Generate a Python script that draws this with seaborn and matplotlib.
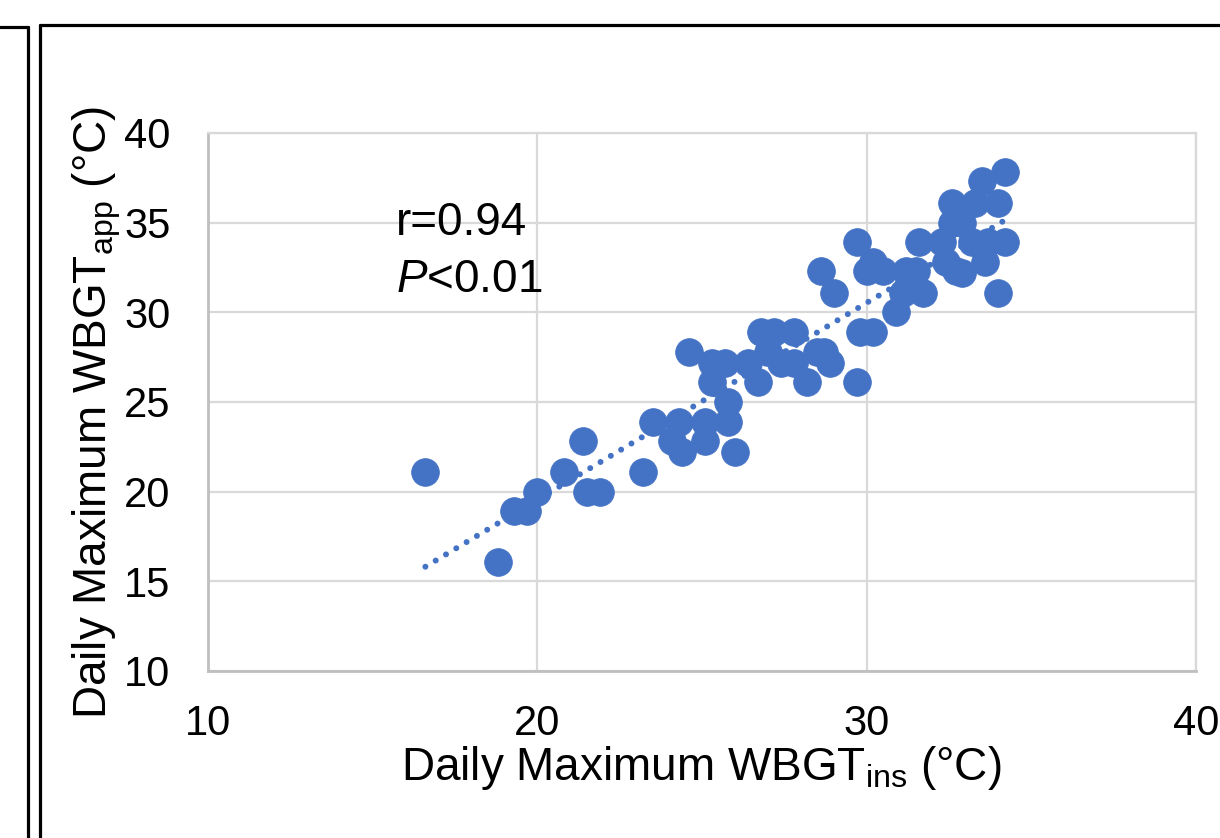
import numpy as np
import pandas as pd
import seaborn as sns
import matplotlib.pyplot as plt
from matplotlib.lines import Line2D

# daily maximum WBGT, instrument vs app (deg C)
wbgt_ins = [16.6, 18.8, 19.3, 19.7, 20.0, 20.8, 21.4, 21.5, 21.9, 23.2,
            23.5, 24.1, 24.3, 24.4, 24.6, 25.1, 25.1, 25.3, 25.3, 25.7,
            25.8, 25.8, 26.0, 26.4, 26.7, 26.8, 27.0, 27.2, 27.4, 27.8,
            27.8, 28.2, 28.5, 28.6, 28.7, 28.9, 29.0, 29.7, 29.7, 29.8,
            30.0, 30.2, 30.2, 30.5, 30.9, 31.1, 31.2, 31.3, 31.5, 31.7,
            31.6, 32.3, 32.4, 32.6, 32.6, 32.7, 32.9, 32.9, 33.2, 33.3,
            33.5, 33.6, 33.7, 34.0, 34.0, 34.2, 34.2]
wbgt_app = [21.1, 16.1, 18.9, 18.9, 20.0, 21.1, 22.8, 20.0, 20.0, 21.1,
            23.9, 22.8, 23.9, 22.2, 27.8, 22.8, 23.9, 27.2, 26.1, 27.2,
            25.0, 23.9, 22.2, 27.2, 26.1, 28.9, 27.8, 28.9, 27.2, 28.9,
            27.2, 26.1, 27.8, 32.3, 27.8, 27.2, 31.1, 26.1, 33.9, 28.9,
            32.3, 32.8, 28.9, 32.3, 30.0, 31.1, 32.3, 31.7, 32.3, 31.1,
            33.9, 33.9, 32.8, 36.1, 35.0, 32.3, 35.0, 32.2, 33.9, 36.1,
            37.3, 32.8, 33.9, 36.1, 31.1, 37.8, 33.9]

ticks = [10, 20, 30, 40]
yticks = [10, 15, 20, 25, 30, 35, 40]

df = pd.DataFrame({'ins': wbgt_ins, 'app': wbgt_app})

sns.set_style('white')
plt.rcParams['font.family'] = ['Liberation Sans', 'DejaVu Sans']
plt.rcParams['text.color'] = 'black'
plt.rcParams['axes.labelcolor'] = 'black'
plt.rcParams['mathtext.fontset'] = 'custom'
plt.rcParams['mathtext.rm'] = 'Liberation Sans'
plt.rcParams['mathtext.it'] = 'Liberation Sans:italic'

blue = '#4472C4'

fig = plt.figure(figsize=(12.2, 8.38), dpi=100)
ax = fig.add_axes([0.1705, 0.1993, 0.8098, 0.642])

# linear trendline (dotted)
sns.regplot(data=df, x='ins', y='app', ax=ax, scatter=False, ci=None,
            line_kws=dict(color=blue, lw=4.3, linestyle=(0, (0.01, 2.0)),
                          dash_capstyle='round'))
sns.scatterplot(data=df, x='ins', y='app', ax=ax, s=400, color=blue,
                edgecolor=blue, linewidth=0.5, zorder=3)

ax.set_xlim(10, 40)
ax.set_ylim(10, 40)
ax.set_xticks(ticks)
ax.set_yticks(yticks)
ax.grid(True, color='#D9D9D9', lw=1.6)
ax.set_axisbelow(True)
ax.tick_params(axis='both', length=0, labelsize=30, colors='black')
ax.tick_params(axis='y', pad=27)
ax.tick_params(axis='x', pad=24)
for side in ['top', 'right']:
    ax.spines[side].set_color('#D9D9D9')
    ax.spines[side].set_linewidth(1.6)
for side in ['left', 'bottom']:
    ax.spines[side].set_color('#BFBFBF')
    ax.spines[side].set_linewidth(2)

ax.set_xlabel(r'Daily Maximum WBGT$_\mathregular{ins}$ (°C)', fontsize=33)
ax.set_ylabel(r'Daily Maximum WBGT$_\mathregular{app}$ (°C)', fontsize=33)
ax.xaxis.set_label_coords(0.4995, -0.136)
ax.yaxis.set_label_coords(-0.086, 0.481)

ax.text(0.19, 0.81, 'r=0.94', transform=ax.transAxes, fontsize=33)
ax.text(0.19, 0.705, r'$\mathit{P}$<0.01', transform=ax.transAxes, fontsize=33)

# panel frame lines
for xs, ys in [([0, 0.02295], [0.9678, 0.9678]),
               ([0.02295, 0.02295], [0.9678, 0]),
               ([0.0328, 0.0328], [0, 0.9702]),
               ([0.0328, 1], [0.9702, 0.9702])]:
    fig.add_artist(Line2D(xs, ys, transform=fig.transFigure, color='black', lw=2.3))

fig.savefig('out.png', dpi=100)
